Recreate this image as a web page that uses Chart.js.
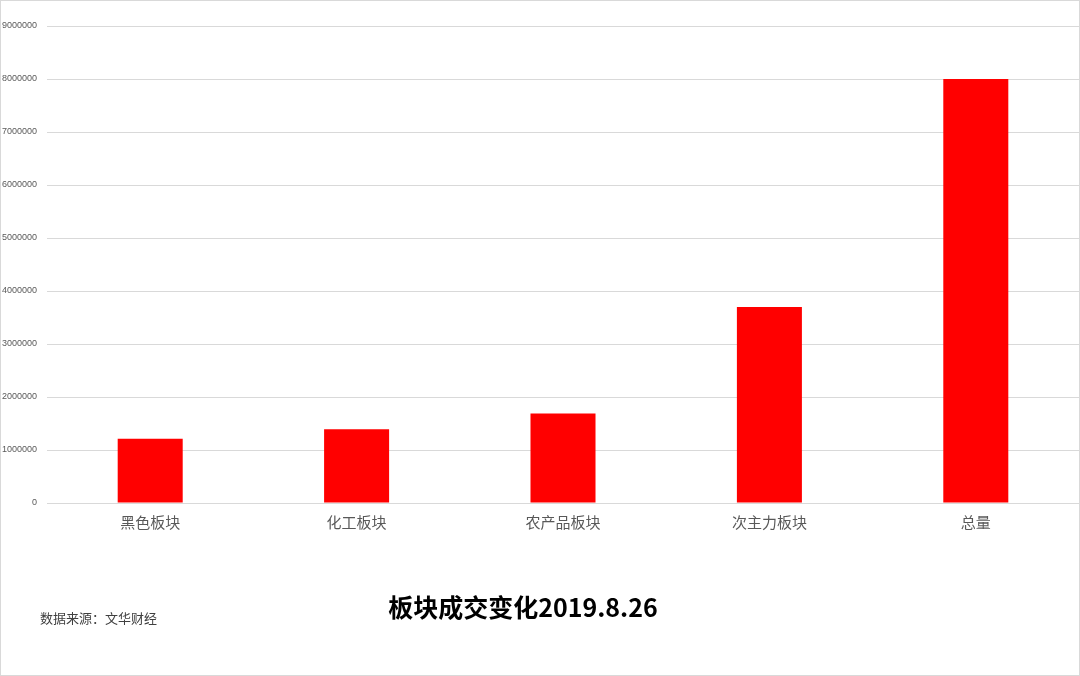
<!DOCTYPE html>
<html>
<head>
<meta charset="utf-8">
<script src="https://cdn.jsdelivr.net/npm/chart.js@4.4.0/dist/chart.umd.min.js"></script>
<style>
  html, body { margin: 0; padding: 0; background: #fff; }
  #frame {
    position: relative;
    width: 1078px;
    height: 674px;
    border: 1px solid #d9d9d9;
    overflow: hidden;
    font-family: "Noto Sans CJK SC", "Noto Sans", sans-serif;
  }
  #wrap { position: absolute; left: 0; top: 0; width: 1078px; height: 674px; }
  #title {
    position: absolute; left: 322px; width: 400px; top: 587px;
    text-align: center; font-size: 25px; font-weight: bold; color: #000;
  }
  #source {
    position: absolute; left: 39px; top: 607px;
    font-size: 13px; color: #404040;
  }
</style>
</head>
<body>
<div id="frame">
  <div id="wrap"><canvas id="myChart"></canvas></div>
  <div id="source">数据来源：文华财经</div>
  <div id="title">板块成交变化2019.8.26</div>
</div>
<script>
const categories = ["黑色板块", "化工板块", "农产品板块", "次主力板块", "总量"];
const volumes = [1210000, 1390000, 1690000, 3700000, 8000000];
const yTicks = [0, 1000000, 2000000, 3000000, 4000000, 5000000, 6000000, 7000000, 8000000, 9000000];

const canvas = document.getElementById("myChart");
const ctx = canvas.getContext("2d");

const chart = new Chart(ctx, {
  type: "bar",
  data: {
    labels: categories,
    datasets: [
      {
        label: "成交量",
        data: volumes,
        backgroundColor: "#ff0000",
        borderWidth: 0,
        categoryPercentage: 1,
        barPercentage: 0.315,
      },
    ],
  },
  options: {
    responsive: true,
    maintainAspectRatio: false,
    animation: false,
    layout: {
      padding: { top: 25, right: 0, bottom: 0, left: 0 }
    },
    scales: {
      x: {
        grid: { display: false, drawTicks: false },
        border: { display: true, color: "#d9d9d9" },
        ticks: {
          color: "#595959",
          padding: 10,
          font: { family: "Noto Sans CJK SC", size: 15 }
        },
        afterFit: function (scale) { scale.height = 172; }
      },
      y: {
        min: 0,
        max: 9000000,
        afterBuildTicks: function (scale) {
          scale.ticks = yTicks.map(v => ({ value: v }));
        },
        grid: { color: "#d9d9d9", drawTicks: false },
        border: { display: false },
        ticks: {
          color: "#595959",
          padding: 10,
          font: { family: "Liberation Sans Narrow, Liberation Sans", size: 9 },
          callback: function (value) { return String(value); }
        },
        afterFit: function (scale) { scale.width = 46; }
      }
    },
    plugins: {
      legend: { display: false },
      tooltip: { enabled: false },
      title: { display: false }
    }
  }
});
</script>
</body>
</html>
